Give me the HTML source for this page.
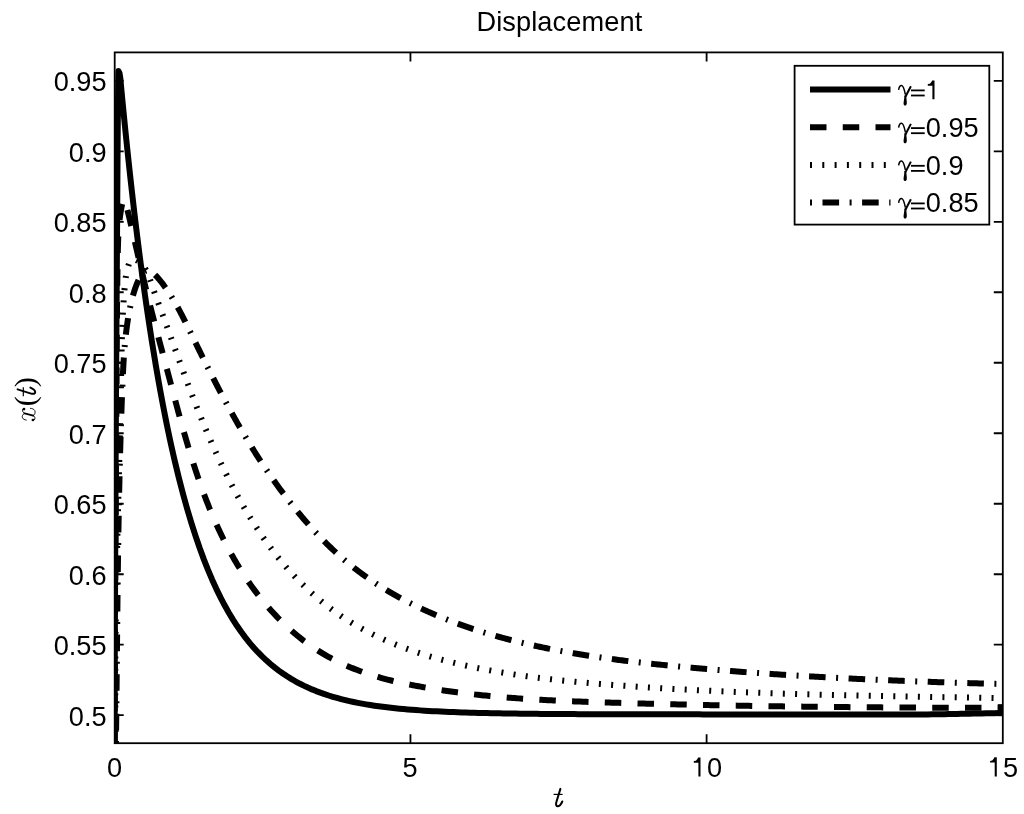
<!DOCTYPE html><html><head><meta charset="utf-8"><title>Displacement</title><style>html,body{margin:0;padding:0;background:#fff;overflow:hidden;}svg{display:block;}text{font-family:"Liberation Sans",sans-serif;fill:#000;}svg{will-change:transform;}</style></head><body>
<svg width="1024" height="814" viewBox="0 0 1024 814">
<rect width="1024" height="814" fill="#fff"/>
<defs><clipPath id="ax"><rect x="114.2" y="52.4" width="888.6" height="690.8"/></clipPath></defs>
<g clip-path="url(#ax)" fill="none" stroke="#000" stroke-width="6.0">
<path d="M114.60,745.00L114.80,650.00L115.20,560.00L115.60,470.00L116.10,380.00L116.70,290.00L117.20,210.00L117.60,150.00L117.90,110.00L118.20,84.00L118.50,71.00L119.50,73.00L120.50,79.50L120.82,83.71L122.17,97.95L123.52,111.87L124.87,125.47L126.22,138.77L127.57,151.77L128.93,164.48L130.28,176.89L131.63,189.03L132.98,200.90L134.33,212.49L135.68,223.83L137.04,234.90L138.39,245.73L139.74,256.32L141.09,266.66L142.44,276.77L143.79,286.66L145.15,296.32L146.50,305.76L147.85,314.99L149.20,324.01L150.55,332.82L151.90,341.44L153.26,349.86L154.61,358.10L155.96,366.14L157.31,374.01L158.66,381.70L160.01,389.21L161.37,396.56L162.72,403.73L164.07,410.75L165.42,417.61L166.77,424.31L168.12,430.86L169.48,437.27L170.83,443.53L172.18,449.65L173.53,455.63L174.71,460.75L178.88,477.98L183.04,494.04L187.20,509.00L191.36,522.95L195.52,535.95L199.68,548.07L203.84,559.36L208.00,569.89L212.16,579.70L216.32,588.84L220.49,597.37L224.65,605.31L228.81,612.71L232.97,619.61L237.13,626.04L241.29,632.04L245.45,637.62L249.61,642.83L253.77,647.68L257.93,652.20L262.10,656.41L266.26,660.33L270.42,663.99L274.58,667.40L278.74,670.58L282.90,673.53L287.06,676.29L291.22,678.86L295.38,681.27L299.54,683.52L303.71,685.61L307.87,687.57L312.03,689.39L316.19,691.09L320.35,692.67L324.51,694.14L328.67,695.52L332.83,696.80L336.99,697.99L341.15,699.11L345.31,700.15L349.48,701.11L353.64,702.02L357.80,702.86L361.96,703.64L366.12,704.37L370.28,705.05L374.44,705.69L378.60,706.28L382.76,706.83L386.92,707.34L391.09,707.82L395.25,708.27L399.41,708.69L403.57,709.08L407.73,709.44L411.89,709.77L416.05,710.09L420.21,710.38L424.37,710.66L428.53,710.91L432.70,711.15L436.86,711.37L441.02,711.58L445.18,711.77L449.34,711.95L453.50,712.11L457.66,712.27L461.82,712.41L465.98,712.55L470.14,712.68L474.31,712.79L478.47,712.90L482.63,713.01L486.79,713.10L490.95,713.19L495.11,713.27L499.27,713.35L503.43,713.42L507.59,713.49L511.75,713.55L515.92,713.61L520.08,713.66L524.24,713.71L528.40,713.76L532.56,713.81L536.72,713.85L540.88,713.88L545.04,713.92L549.20,713.95L553.36,713.98L557.52,714.01L561.69,714.04L565.85,714.07L570.01,714.09L574.17,714.11L578.33,714.13L582.49,714.15L586.65,714.17L590.81,714.18L594.97,714.20L599.13,714.21L603.30,714.23L607.46,714.24L611.62,714.25L615.78,714.26L619.94,714.27L624.10,714.28L628.26,714.29L632.42,714.30L636.58,714.31L640.74,714.31L644.91,714.32L649.07,714.33L653.23,714.33L657.39,714.34L661.55,714.34L665.71,714.35L669.87,714.35L674.03,714.35L678.19,714.36L682.35,714.36L686.52,714.37L690.68,714.37L694.84,714.37L699.00,714.37L703.16,714.38L707.32,714.38L711.48,714.38L715.64,714.38L719.80,714.38L723.96,714.39L728.13,714.39L732.29,714.39L736.45,714.39L740.61,714.39L744.77,714.39L748.93,714.39L753.09,714.40L757.25,714.40L761.41,714.40L765.57,714.40L769.74,714.40L773.90,714.40L778.06,714.40L782.22,714.40L786.38,714.40L790.54,714.40L794.70,714.40L798.86,714.40L803.02,714.40L807.18,714.40L811.34,714.40L815.51,714.40L819.67,714.41L823.83,714.41L827.99,714.41L832.15,714.41L836.31,714.41L840.47,714.41L844.63,714.41L848.79,714.41L852.95,714.41L857.12,714.41L861.28,714.41L865.44,714.41L869.60,714.41L873.76,714.41L877.92,714.41L882.08,714.41L886.24,714.41L890.40,714.41L894.56,714.41L898.73,714.41L902.89,714.41L907.05,714.41L911.21,714.41L915.37,714.41L919.53,714.41L923.69,714.41L927.85,714.41L932.01,714.37L936.17,714.29L940.34,714.21L944.50,714.13L948.66,714.05L952.82,713.97L956.98,713.89L961.14,713.81L965.30,713.73L969.46,713.65L973.62,713.57L977.78,713.49L981.95,713.41L986.11,713.33L990.27,713.25L994.43,713.17L998.59,713.09L1002.75,713.01" stroke-linejoin="round"/>
<path d="M114.83,745.00L114.82,743.06L114.82,741.13L114.81,739.19L114.81,737.25L114.81,735.31L114.81,733.37L114.80,731.43L114.80,729.49L114.80,727.55L114.80,725.61L114.80,723.67L114.80,721.73L114.80,719.79L114.79,717.86L114.79,715.92L114.79,713.98L114.79,712.04L114.80,710.10L114.80,708.16L114.80,706.22L114.80,704.28L114.80,702.34L114.80,700.40L114.80,698.47L114.81,696.53L114.81,694.59L114.81,692.65L114.81,690.71L114.82,688.77L114.82,686.83L114.82,684.90L114.83,682.96L114.83,681.02L114.84,679.08L114.84,677.14L114.85,675.20L114.85,673.26L114.86,671.33L114.86,669.39L114.87,667.45L114.87,665.51L114.88,663.57L114.88,661.63L114.89,659.70L114.90,657.76L114.90,655.82L114.91,653.88L114.92,651.94L114.93,650.00L114.93,648.07L114.94,646.13L114.95,644.19L114.96,642.25L114.96,640.31L114.97,638.37L114.98,636.44L114.99,634.50L115.00,632.56L115.01,630.62L115.02,628.68L115.02,626.75L115.03,624.81L115.04,622.87L115.05,620.93L115.06,618.99L115.07,617.05L115.08,615.12L115.09,613.18L115.10,611.24L115.11,609.30L115.12,607.36L115.13,605.43L115.15,603.49L115.16,601.55L115.17,599.61L115.18,597.67L115.19,595.74L115.20,593.80L115.21,591.86L115.22,589.92L115.24,587.98L115.25,586.05L115.26,584.11L115.27,582.17L115.28,580.23L115.30,578.29L115.31,576.36L115.32,574.42L115.33,572.48L115.34,570.54L115.36,568.60L115.37,566.67L115.38,564.73L115.40,562.79L115.41,560.85L115.42,558.91L115.43,556.98L115.45,555.04L115.46,553.10L115.47,551.16L115.49,549.22L115.50,547.29L115.51,545.35L115.53,543.41L115.54,541.47L115.55,539.53L115.57,537.60L115.58,535.66L115.59,533.72L115.61,531.78L115.62,529.84L115.63,527.91L115.65,525.97L115.66,524.03L115.67,522.09L115.69,520.15L115.70,518.22L115.72,516.28L115.73,514.34L115.74,512.40L115.76,510.46L115.77,508.53L115.78,506.59L115.80,504.65L115.81,502.71L115.83,500.77L115.84,498.83L115.85,496.90L115.87,494.96L115.88,493.02L115.89,491.08L115.91,489.14L115.92,487.20L115.93,485.27L115.95,483.33L115.96,481.39L115.98,479.45L115.99,477.51L116.00,475.57L116.02,473.64L116.03,471.70L116.04,469.76L116.06,467.82L116.07,465.88L116.08,463.94L116.09,462.01L116.11,460.07L116.12,458.13L116.13,456.19L116.15,454.25L116.16,452.31L116.17,450.37L116.18,448.44L116.20,446.50L116.21,444.56L116.22,442.62L116.23,440.68L116.25,438.74L116.26,436.80L116.27,434.86L116.28,432.93L116.29,430.99L116.31,429.05L116.32,427.11L116.33,425.17L116.34,423.23L116.35,421.29L116.36,419.35L116.37,417.41L116.39,415.47L116.40,413.54L116.41,411.60L116.42,409.66L116.43,407.72L116.44,405.78L116.45,403.84L116.46,401.90L116.47,399.96L116.48,398.02L116.49,396.08L116.50,394.14L116.51,392.20L116.52,390.26L116.53,388.32L116.54,386.39L116.55,384.45L116.56,382.51L116.56,380.57L116.57,378.63L116.58,376.69L116.59,374.75L116.60,372.81L116.61,370.87L116.62,368.93L116.63,366.99L116.64,365.05L116.65,363.11L116.66,361.17L116.67,359.23L116.68,357.29L116.69,355.35L116.70,353.41L116.71,351.48L116.72,349.54L116.73,347.60L116.74,345.66L116.76,343.72L116.77,341.78L116.78,339.84L116.79,337.90L116.80,335.96L116.82,334.02L116.83,332.09L116.84,330.15L116.86,328.21L116.87,326.27L116.89,324.33L116.90,322.39L116.92,320.45L116.93,318.52L116.95,316.58L116.97,314.64L116.98,312.70L117.00,310.76L117.02,308.83L117.04,306.89L117.06,304.95L117.08,303.01L117.10,301.08L117.12,299.14L117.14,297.20L117.16,295.26L117.18,293.33L117.20,291.39L117.23,289.45L117.25,287.52L117.28,285.58L117.30,283.64L117.33,281.71L117.35,279.77L117.38,277.83L117.41,275.90L117.44,273.96L117.47,272.03L117.50,270.09L117.53,268.16L117.56,266.22L117.59,264.29L117.63,262.35L117.66,260.42L117.70,258.48L117.73,256.55L117.77,254.61L117.81,252.68L117.85,250.75L117.89,248.81L117.94,246.88L117.99,244.95L118.05,243.01L118.11,241.08L118.19,239.14L118.27,237.21L118.36,235.27L118.47,233.34L118.58,231.40L118.71,229.46L118.86,227.53L119.02,225.59L119.19,223.65L119.39,221.71L119.60,219.77L119.83,217.83L120.08,215.89L120.36,213.95L120.65,212.00L120.97,210.06L121.32,208.11L121.69,206.17L122.14,204.23L122.70,202.32L123.44,200.46L124.24,199.36L124.89,200.15L125.42,202.01L125.92,203.94L126.42,205.85L126.90,207.75L127.36,209.64L127.82,211.52L128.28,213.40L128.73,215.28L129.17,217.16L129.62,219.04L130.06,220.92L130.50,222.81L130.94,224.69L131.38,226.58L131.82,228.47L132.26,230.36L132.70,232.25L133.13,234.14L133.57,236.03L134.00,237.92L134.44,239.82L134.87,241.71L135.30,243.61L135.74,245.50L136.17,247.40L136.61,249.29L137.04,251.19L137.48,253.09L137.91,254.98L138.35,256.88L138.79,258.78L139.22,260.67L139.66,262.57L140.10,264.46L140.54,266.36L140.98,268.25L141.43,270.15L141.87,272.04L142.32,273.93L142.77,275.82L143.22,277.71L143.67,279.60L144.13,281.49L144.58,283.37L145.04,285.26L145.50,287.14L145.96,289.02L146.43,290.91L146.89,292.79L147.36,294.66L147.83,296.54L148.30,298.42L148.78,300.30L149.25,302.17L149.73,304.05L150.20,305.92L150.68,307.79L151.16,309.67L151.64,311.54L152.13,313.41L152.61,315.28L153.10,317.15L153.58,319.02L154.07,320.89L154.56,322.76L155.05,324.63L155.54,326.49L156.03,328.36L156.52,330.23L157.02,332.10L157.51,333.96L158.01,335.83L158.50,337.70L159.00,339.56L159.50,341.43L159.99,343.29L160.49,345.16L160.99,347.03L161.49,348.89L161.99,350.76L162.49,352.63L162.99,354.50L163.49,356.36L163.99,358.23L164.49,360.10L164.99,361.97L165.49,363.84L165.99,365.71L166.49,367.58L166.99,369.45L167.49,371.32L167.99,373.19L168.48,375.06L168.98,376.93L169.48,378.81L169.98,380.68L170.48,382.56L170.98,384.43L171.48,386.31L171.97,388.18L172.47,390.06L172.97,391.94L173.47,393.82L173.97,395.69L174.47,397.57L174.98,399.45L175.48,401.33L175.98,403.21L176.49,405.08L177.00,406.96L177.50,408.84L178.01,410.72L178.52,412.59L179.03,414.47L179.55,416.35L180.06,418.22L180.58,420.10L181.10,421.97L181.62,423.85L182.15,425.72L182.67,427.60L183.20,429.47L183.73,431.34L184.27,433.21L184.80,435.08L185.34,436.95L185.88,438.82L186.43,440.69L186.98,442.55L187.53,444.42L188.08,446.28L188.64,448.14L189.20,450.00L189.77,451.86L190.34,453.72L190.91,455.58L191.49,457.43L192.07,459.29L192.65,461.14L193.24,462.99L193.83,464.84L194.43,466.69L195.03,468.53L195.64,470.37L196.25,472.22L196.87,474.06L197.49,475.89L198.12,477.73L198.75,479.56L199.38,481.39L200.03,483.22L200.67,485.05L201.33,486.87L201.98,488.69L202.65,490.51L203.32,492.33L203.99,494.14L204.68,495.95L205.36,497.76L206.06,499.57L206.76,501.37L207.47,503.17L208.18,504.97L208.90,506.76L209.63,508.55L210.36,510.34L211.10,512.13L211.85,513.91L212.60,515.69L213.36,517.46L214.13,519.23L214.91,521.00L215.69,522.77L216.48,524.53L217.28,526.29L218.09,528.04L218.91,529.79L219.73,531.54L220.56,533.29L221.40,535.03L222.25,536.76L223.10,538.49L223.97,540.22L224.84,541.95L225.72,543.67L226.61,545.38L227.51,547.09L228.42,548.80L229.34,550.51L230.27,552.20L231.20,553.90L232.15,555.59L233.11,557.28L234.07,558.96L235.04,560.63L236.03,562.31L237.02,563.97L238.03,565.63L239.04,567.29L240.06,568.94L241.10,570.59L242.14,572.23L243.20,573.87L244.26,575.49L245.33,577.12L246.41,578.73L247.51,580.34L248.61,581.95L249.72,583.54L250.85,585.13L251.98,586.71L253.12,588.29L254.28,589.85L255.44,591.41L256.61,592.97L257.80,594.51L258.99,596.04L260.19,597.57L261.41,599.09L262.63,600.60L263.86,602.10L265.11,603.59L266.36,605.07L267.63,606.55L268.90,608.01L270.19,609.46L271.48,610.91L272.79,612.34L274.10,613.77L275.43,615.18L276.76,616.58L278.11,617.97L279.47,619.36L280.83,620.73L282.21,622.09L283.60,623.43L285.00,624.77L286.41,626.09L287.82,627.40L289.25,628.70L290.69,629.99L292.14,631.27L293.60,632.53L295.08,633.78L296.56,635.02L298.05,636.24L299.55,637.45L301.06,638.65L302.59,639.84L304.12,641.01L305.67,642.16L307.22,643.30L308.79,644.43L310.37,645.54L311.95,646.64L313.55,647.73L315.16,648.80L316.78,649.85L318.41,650.89L320.05,651.91L321.70,652.92L323.36,653.91L325.03,654.89L326.72,655.85L328.41,656.79L330.11,657.72L331.83,658.63L333.55,659.53L335.28,660.41L337.03,661.27L338.78,662.12L340.54,662.96L342.30,663.78L344.08,664.59L345.86,665.38L347.65,666.15L349.45,666.92L351.25,667.66L353.06,668.40L354.88,669.12L356.70,669.82L358.53,670.51L360.37,671.19L362.21,671.86L364.05,672.51L365.90,673.14L367.76,673.77L369.61,674.38L371.47,674.98L373.34,675.56L375.21,676.14L377.08,676.70L378.95,677.24L380.83,677.78L382.71,678.30L384.59,678.81L386.47,679.31L388.35,679.80L390.24,680.28L392.13,680.74L394.01,681.20L395.90,681.64L397.79,682.08L399.68,682.50L401.58,682.92L403.47,683.33L405.36,683.73L407.26,684.12L409.16,684.50L411.05,684.88L412.95,685.25L414.85,685.61L416.75,685.97L418.65,686.32L420.56,686.67L422.46,687.01L424.36,687.34L426.27,687.67L428.17,688.00L430.08,688.32L431.99,688.64L433.89,688.95L435.80,689.25L437.71,689.55L439.62,689.85L441.53,690.14L443.44,690.42L445.36,690.71L447.27,690.98L449.18,691.25L451.10,691.52L453.01,691.79L454.93,692.04L456.84,692.30L458.76,692.55L460.68,692.79L462.60,693.03L464.51,693.27L466.43,693.50L468.35,693.73L470.27,693.96L472.19,694.18L474.12,694.39L476.04,694.61L477.96,694.81L479.88,695.02L481.81,695.22L483.73,695.42L485.66,695.61L487.58,695.80L489.51,695.99L491.44,696.17L493.36,696.35L495.29,696.52L497.22,696.70L499.15,696.87L501.08,697.03L503.00,697.19L504.93,697.35L506.86,697.51L508.79,697.66L510.73,697.81L512.66,697.96L514.59,698.10L516.52,698.25L518.45,698.38L520.39,698.52L522.32,698.65L524.25,698.78L526.19,698.91L528.12,699.03L530.06,699.16L531.99,699.28L533.93,699.39L535.86,699.51L537.80,699.62L539.73,699.73L541.67,699.84L543.61,699.95L545.54,700.05L547.48,700.15L549.42,700.25L551.35,700.35L553.29,700.44L555.23,700.54L557.17,700.63L559.11,700.72L561.05,700.81L562.98,700.89L564.92,700.98L566.86,701.06L568.80,701.14L570.74,701.22L572.68,701.30L574.62,701.38L576.56,701.45L578.50,701.53L580.44,701.60L582.38,701.67L584.32,701.74L586.26,701.81L588.20,701.88L590.14,701.95L592.08,702.01L594.02,702.08L595.96,702.14L597.90,702.21L599.84,702.27L601.78,702.33L603.72,702.39L605.66,702.45L607.60,702.51L609.54,702.57L611.48,702.63L613.42,702.69L615.36,702.75L617.30,702.81L619.24,702.86L621.18,702.92L623.12,702.98L625.06,703.03L627.00,703.09L628.94,703.15L630.88,703.20L632.82,703.26L634.76,703.31L636.70,703.36L638.64,703.42L640.58,703.47L642.51,703.52L644.45,703.57L646.39,703.63L648.33,703.68L650.27,703.73L652.21,703.78L654.15,703.83L656.09,703.88L658.03,703.93L659.96,703.98L661.90,704.03L663.84,704.08L665.78,704.12L667.72,704.17L669.66,704.22L671.60,704.27L673.53,704.31L675.47,704.36L677.41,704.40L679.35,704.45L681.29,704.49L683.23,704.54L685.16,704.58L687.10,704.63L689.04,704.67L690.98,704.71L692.92,704.76L694.85,704.80L696.79,704.84L698.73,704.88L700.67,704.92L702.61,704.97L704.54,705.01L706.48,705.05L708.42,705.09L710.36,705.13L712.29,705.17L714.23,705.20L716.17,705.24L718.11,705.28L720.05,705.32L721.98,705.36L723.92,705.39L725.86,705.43L727.80,705.47L729.73,705.50L731.67,705.54L733.61,705.58L735.55,705.61L737.48,705.64L739.42,705.68L741.36,705.71L743.29,705.75L745.23,705.78L747.17,705.81L749.11,705.85L751.04,705.88L752.98,705.91L754.92,705.94L756.86,705.98L758.79,706.01L760.73,706.04L762.67,706.07L764.60,706.10L766.54,706.13L768.48,706.16L770.42,706.19L772.35,706.22L774.29,706.24L776.23,706.27L778.17,706.30L780.10,706.33L782.04,706.36L783.98,706.38L785.91,706.41L787.85,706.44L789.79,706.46L791.73,706.49L793.66,706.51L795.60,706.54L797.54,706.56L799.47,706.59L801.41,706.61L803.35,706.64L805.29,706.66L807.22,706.69L809.16,706.71L811.10,706.73L813.03,706.75L814.97,706.78L816.91,706.80L818.85,706.82L820.78,706.84L822.72,706.86L824.66,706.88L826.60,706.90L828.53,706.93L830.47,706.95L832.41,706.97L834.34,706.98L836.28,707.00L838.22,707.02L840.16,707.04L842.09,707.06L844.03,707.08L845.97,707.10L847.91,707.11L849.84,707.13L851.78,707.15L853.72,707.17L855.66,707.18L857.59,707.20L859.53,707.21L861.47,707.23L863.41,707.25L865.35,707.26L867.28,707.28L869.22,707.29L871.16,707.31L873.10,707.32L875.03,707.33L876.97,707.35L878.91,707.36L880.85,707.37L882.79,707.39L884.72,707.40L886.66,707.41L888.60,707.43L890.54,707.44L892.48,707.45L894.42,707.46L896.35,707.47L898.29,707.48L900.23,707.49L902.17,707.51L904.11,707.52L906.05,707.53L907.98,707.54L909.92,707.55L911.86,707.55L913.80,707.56L915.74,707.57L917.68,707.58L919.62,707.59L921.55,707.60L923.49,707.61L925.43,707.62L927.37,707.62L929.31,707.63L931.25,707.64L933.19,707.64L935.13,707.65L937.07,707.66L939.01,707.66L940.95,707.67L942.89,707.68L944.82,707.68L946.76,707.69L948.70,707.69L950.64,707.70L952.58,707.70L954.52,707.71L956.46,707.71L958.40,707.72L960.34,707.72L962.28,707.73L964.22,707.73L966.16,707.73L968.10,707.74L970.04,707.74L971.98,707.74L973.92,707.75L975.86,707.75L977.80,707.75L979.75,707.75L981.69,707.76L983.63,707.76L985.57,707.76L987.51,707.76L989.45,707.76L991.39,707.76L993.33,707.76L995.27,707.77L997.21,707.77L999.16,707.77L1001.10,707.77L1003.04,707.77" stroke-dasharray="16.50 16.25" stroke-dashoffset="31.95"/>
<path d="M115.74,745.01L115.72,743.56L115.69,742.12L115.67,740.68L115.65,739.24L115.63,737.79L115.61,736.35L115.59,734.91L115.57,733.46L115.55,732.02L115.53,730.58L115.51,729.14L115.49,727.69L115.48,726.25L115.46,724.81L115.45,723.37L115.43,721.92L115.42,720.48L115.40,719.04L115.39,717.60L115.38,716.15L115.37,714.71L115.36,713.27L115.35,711.83L115.34,710.39L115.33,708.94L115.32,707.50L115.31,706.06L115.30,704.62L115.30,703.17L115.29,701.73L115.29,700.29L115.28,698.85L115.28,697.41L115.27,695.96L115.27,694.52L115.27,693.08L115.26,691.64L115.26,690.20L115.26,688.75L115.26,687.31L115.26,685.87L115.26,684.43L115.26,682.99L115.26,681.54L115.26,680.10L115.27,678.66L115.27,677.22L115.27,675.78L115.28,674.33L115.28,672.89L115.29,671.45L115.29,670.01L115.30,668.57L115.31,667.13L115.31,665.68L115.32,664.24L115.33,662.80L115.34,661.36L115.34,659.92L115.35,658.48L115.36,657.04L115.37,655.59L115.38,654.15L115.39,652.71L115.41,651.27L115.42,649.83L115.43,648.39L115.44,646.94L115.46,645.50L115.47,644.06L115.48,642.62L115.50,641.18L115.51,639.74L115.53,638.30L115.54,636.85L115.56,635.41L115.58,633.97L115.59,632.53L115.61,631.09L115.63,629.65L115.65,628.21L115.66,626.77L115.68,625.32L115.70,623.88L115.72,622.44L115.74,621.00L115.76,619.56L115.78,618.12L115.80,616.68L115.82,615.24L115.85,613.80L115.87,612.35L115.89,610.91L115.91,609.47L115.94,608.03L115.96,606.59L115.98,605.15L116.01,603.71L116.03,602.27L116.05,600.83L116.08,599.38L116.10,597.94L116.13,596.50L116.16,595.06L116.18,593.62L116.21,592.18L116.23,590.74L116.26,589.30L116.29,587.86L116.31,586.41L116.34,584.97L116.37,583.53L116.40,582.09L116.43,580.65L116.45,579.21L116.48,577.77L116.51,576.33L116.54,574.89L116.57,573.45L116.60,572.00L116.63,570.56L116.66,569.12L116.69,567.68L116.72,566.24L116.75,564.80L116.78,563.36L116.82,561.92L116.85,560.48L116.88,559.04L116.91,557.60L116.94,556.15L116.97,554.71L117.01,553.27L117.04,551.83L117.07,550.39L117.10,548.95L117.14,547.51L117.17,546.07L117.20,544.63L117.24,543.19L117.27,541.74L117.30,540.30L117.34,538.86L117.37,537.42L117.41,535.98L117.44,534.54L117.48,533.10L117.51,531.66L117.54,530.22L117.58,528.78L117.61,527.34L117.65,525.89L117.68,524.45L117.72,523.01L117.76,521.57L117.79,520.13L117.83,518.69L117.86,517.25L117.90,515.81L117.93,514.37L117.97,512.93L118.00,511.48L118.04,510.04L118.08,508.60L118.11,507.16L118.15,505.72L118.18,504.28L118.22,502.84L118.26,501.40L118.29,499.96L118.33,498.51L118.37,497.07L118.40,495.63L118.44,494.19L118.47,492.75L118.51,491.31L118.55,489.87L118.58,488.43L118.62,486.99L118.66,485.54L118.69,484.10L118.73,482.66L118.77,481.22L118.80,479.78L118.84,478.34L118.87,476.90L118.91,475.46L118.95,474.02L118.98,472.57L119.02,471.13L119.06,469.69L119.09,468.25L119.13,466.81L119.16,465.37L119.20,463.93L119.24,462.49L119.27,461.04L119.31,459.60L119.34,458.16L119.38,456.72L119.41,455.28L119.45,453.84L119.48,452.40L119.52,450.95L119.55,449.51L119.59,448.07L119.62,446.63L119.66,445.19L119.69,443.75L119.73,442.30L119.76,440.86L119.80,439.42L119.83,437.98L119.87,436.54L119.90,435.10L119.93,433.66L119.97,432.21L120.00,430.77L120.03,429.33L120.07,427.89L120.10,426.45L120.13,425.01L120.17,423.56L120.20,422.12L120.23,420.68L120.26,419.24L120.29,417.80L120.33,416.35L120.36,414.91L120.39,413.47L120.42,412.03L120.45,410.59L120.48,409.14L120.51,407.70L120.54,406.26L120.57,404.82L120.60,403.38L120.63,401.93L120.66,400.49L120.69,399.05L120.72,397.61L120.75,396.17L120.78,394.72L120.81,393.28L120.84,391.84L120.86,390.40L120.89,388.95L120.92,387.51L120.95,386.07L120.97,384.63L121.00,383.19L121.02,381.74L121.05,380.30L121.08,378.86L121.10,377.42L121.13,375.97L121.15,374.53L121.18,373.09L121.20,371.65L121.23,370.20L121.25,368.76L121.28,367.32L121.30,365.88L121.33,364.43L121.35,362.99L121.38,361.55L121.41,360.11L121.44,358.66L121.46,357.22L121.49,355.78L121.52,354.34L121.55,352.90L121.58,351.45L121.62,350.01L121.65,348.57L121.68,347.13L121.72,345.69L121.75,344.25L121.79,342.81L121.83,341.37L121.87,339.92L121.91,338.48L121.95,337.04L121.99,335.60L122.04,334.16L122.08,332.72L122.13,331.28L122.18,329.84L122.23,328.40L122.29,326.96L122.34,325.52L122.40,324.09L122.46,322.65L122.52,321.21L122.58,319.77L122.65,318.33L122.71,316.89L122.78,315.46L122.86,314.02L122.93,312.58L123.01,311.15L123.09,309.71L123.17,308.27L123.25,306.84L123.34,305.40L123.43,303.97L123.52,302.53L123.62,301.10L123.71,299.66L123.82,298.23L123.92,296.79L124.03,295.36L124.14,293.93L124.25,292.49L124.37,291.06L124.49,289.63L124.61,288.20L124.74,286.77L124.87,285.34L125.00,283.90L125.14,282.47L125.30,281.04L125.46,279.61L125.65,278.18L125.85,276.74L126.08,275.31L126.33,273.87L126.61,272.43L126.92,270.99L127.26,269.55L127.64,268.10L128.06,266.66L128.52,265.20L129.03,263.75L129.60,262.36L130.25,261.10L131.01,260.08L131.88,259.37L132.90,259.07L134.04,259.15L135.26,259.53L136.50,260.12L137.72,260.86L138.92,261.72L140.09,262.69L141.22,263.75L142.30,264.89L143.32,266.09L144.27,267.34L145.15,268.63L145.96,269.93L146.68,271.24L147.33,272.56L147.91,273.88L148.45,275.21L148.95,276.54L149.43,277.88L149.88,279.22L150.33,280.56L150.78,281.90L151.24,283.25L151.70,284.59L152.17,285.94L152.64,287.29L153.11,288.64L153.59,289.99L154.07,291.34L154.55,292.69L155.03,294.04L155.52,295.40L156.01,296.75L156.50,298.10L156.99,299.46L157.48,300.82L157.98,302.17L158.48,303.53L158.97,304.88L159.47,306.24L159.97,307.60L160.47,308.96L160.97,310.31L161.47,311.67L161.97,313.03L162.47,314.39L162.97,315.74L163.47,317.10L163.96,318.46L164.46,319.81L164.95,321.17L165.45,322.53L165.94,323.88L166.44,325.24L166.93,326.59L167.42,327.95L167.92,329.31L168.41,330.66L168.90,332.02L169.39,333.37L169.88,334.72L170.37,336.08L170.86,337.43L171.35,338.79L171.84,340.14L172.33,341.49L172.82,342.85L173.31,344.20L173.80,345.55L174.29,346.91L174.78,348.26L175.27,349.61L175.76,350.96L176.25,352.32L176.74,353.67L177.23,355.02L177.72,356.37L178.21,357.72L178.71,359.07L179.20,360.42L179.69,361.78L180.18,363.13L180.68,364.48L181.17,365.83L181.67,367.18L182.16,368.53L182.66,369.88L183.15,371.23L183.65,372.58L184.15,373.93L184.65,375.28L185.15,376.62L185.65,377.97L186.15,379.32L186.66,380.67L187.16,382.02L187.66,383.37L188.17,384.72L188.68,386.07L189.19,387.41L189.70,388.76L190.21,390.11L190.72,391.46L191.23,392.80L191.75,394.15L192.26,395.50L192.78,396.84L193.30,398.19L193.82,399.53L194.34,400.88L194.86,402.22L195.39,403.57L195.91,404.91L196.44,406.26L196.97,407.60L197.50,408.94L198.03,410.28L198.56,411.63L199.10,412.97L199.63,414.31L200.17,415.65L200.71,416.99L201.25,418.32L201.80,419.66L202.34,421.00L202.89,422.34L203.44,423.67L203.99,425.01L204.54,426.34L205.10,427.67L205.66,429.01L206.21,430.34L206.78,431.67L207.34,433.00L207.90,434.33L208.47,435.66L209.04,436.98L209.61,438.31L210.18,439.63L210.76,440.96L211.34,442.28L211.92,443.60L212.50,444.92L213.08,446.24L213.67,447.56L214.26,448.88L214.85,450.20L215.45,451.51L216.04,452.83L216.64,454.14L217.24,455.45L217.85,456.76L218.45,458.07L219.06,459.38L219.67,460.69L220.29,461.99L220.90,463.29L221.52,464.60L222.14,465.90L222.77,467.20L223.40,468.50L224.03,469.79L224.66,471.09L225.30,472.38L225.93,473.67L226.58,474.96L227.22,476.25L227.87,477.54L228.52,478.83L229.17,480.11L229.83,481.39L230.49,482.67L231.15,483.95L231.81,485.23L232.48,486.51L233.15,487.78L233.83,489.05L234.51,490.32L235.19,491.59L235.87,492.86L236.56,494.12L237.25,495.38L237.94,496.64L238.64,497.90L239.34,499.16L240.04,500.41L240.75,501.67L241.46,502.92L242.18,504.17L242.89,505.41L243.62,506.66L244.34,507.90L245.07,509.14L245.80,510.38L246.54,511.62L247.28,512.85L248.02,514.08L248.77,515.31L249.52,516.54L250.27,517.76L251.03,518.99L251.79,520.21L252.56,521.42L253.32,522.64L254.10,523.85L254.87,525.06L255.66,526.27L256.44,527.48L257.23,528.68L258.02,529.88L258.82,531.08L259.62,532.27L260.43,533.46L261.24,534.65L262.05,535.84L262.87,537.02L263.69,538.20L264.52,539.38L265.35,540.55L266.19,541.72L267.03,542.89L267.87,544.06L268.72,545.22L269.58,546.38L270.43,547.53L271.30,548.68L272.16,549.83L273.04,550.97L273.91,552.11L274.80,553.25L275.68,554.39L276.57,555.52L277.47,556.64L278.37,557.77L279.28,558.89L280.19,560.00L281.10,561.11L282.02,562.22L282.95,563.32L283.88,564.42L284.82,565.52L285.76,566.61L286.71,567.70L287.66,568.78L288.62,569.86L289.58,570.94L290.55,572.01L291.52,573.08L292.50,574.14L293.48,575.20L294.47,576.25L295.47,577.30L296.47,578.34L297.47,579.38L298.48,580.42L299.50,581.45L300.52,582.47L301.55,583.50L302.58,584.51L303.62,585.52L304.66,586.53L305.71,587.53L306.76,588.53L307.82,589.52L308.89,590.50L309.95,591.48L311.03,592.46L312.11,593.43L313.19,594.39L314.28,595.35L315.37,596.30L316.47,597.25L317.57,598.19L318.68,599.12L319.79,600.05L320.91,600.97L322.03,601.89L323.15,602.80L324.28,603.71L325.42,604.60L326.56,605.50L327.70,606.38L328.85,607.26L330.00,608.13L331.16,609.00L332.32,609.86L333.49,610.71L334.66,611.56L335.83,612.40L337.01,613.23L338.19,614.06L339.38,614.88L340.57,615.69L341.76,616.49L342.96,617.29L344.16,618.08L345.37,618.86L346.58,619.64L347.79,620.41L349.01,621.17L350.23,621.93L351.46,622.67L352.69,623.42L353.92,624.15L355.16,624.88L356.40,625.60L357.64,626.31L358.89,627.02L360.14,627.72L361.39,628.42L362.65,629.11L363.91,629.79L365.18,630.47L366.45,631.13L367.72,631.80L368.99,632.45L370.27,633.10L371.55,633.75L372.83,634.39L374.12,635.02L375.41,635.64L376.70,636.26L378.00,636.88L379.30,637.49L380.60,638.09L381.90,638.68L383.21,639.27L384.52,639.86L385.83,640.44L387.15,641.01L388.47,641.58L389.79,642.14L391.11,642.69L392.44,643.24L393.77,643.79L395.10,644.33L396.43,644.86L397.77,645.39L399.11,645.91L400.45,646.43L401.79,646.94L403.14,647.45L404.49,647.95L405.84,648.45L407.19,648.94L408.55,649.43L409.90,649.91L411.26,650.39L412.62,650.86L413.99,651.32L415.35,651.79L416.72,652.24L418.09,652.70L419.46,653.14L420.83,653.59L422.21,654.02L423.58,654.46L424.96,654.89L426.34,655.31L427.72,655.73L429.10,656.15L430.49,656.56L431.87,656.96L433.26,657.37L434.65,657.76L436.04,658.16L437.43,658.55L438.83,658.93L440.22,659.31L441.62,659.69L443.02,660.06L444.41,660.43L445.81,660.80L447.21,661.16L448.62,661.51L450.02,661.87L451.42,662.22L452.83,662.56L454.24,662.90L455.64,663.24L457.05,663.58L458.46,663.91L459.87,664.24L461.28,664.56L462.69,664.88L464.10,665.20L465.52,665.51L466.93,665.82L468.34,666.13L469.76,666.43L471.17,666.73L472.59,667.03L474.01,667.32L475.42,667.61L476.84,667.90L478.26,668.19L479.68,668.47L481.09,668.75L482.51,669.02L483.93,669.29L485.35,669.56L486.77,669.83L488.19,670.10L489.61,670.36L491.03,670.61L492.45,670.87L493.87,671.12L495.29,671.37L496.71,671.62L498.14,671.87L499.56,672.11L500.98,672.35L502.40,672.58L503.83,672.82L505.25,673.05L506.67,673.28L508.10,673.51L509.52,673.73L510.95,673.95L512.37,674.17L513.80,674.39L515.22,674.60L516.65,674.82L518.07,675.03L519.50,675.23L520.92,675.44L522.35,675.64L523.78,675.84L525.20,676.04L526.63,676.24L528.06,676.43L529.49,676.62L530.92,676.81L532.34,677.00L533.77,677.19L535.20,677.37L536.63,677.55L538.06,677.73L539.49,677.91L540.92,678.08L542.35,678.26L543.78,678.43L545.21,678.60L546.64,678.77L548.07,678.93L549.50,679.10L550.93,679.26L552.36,679.42L553.79,679.58L555.22,679.74L556.65,679.89L558.09,680.05L559.52,680.20L560.95,680.35L562.38,680.50L563.82,680.65L565.25,680.79L566.68,680.94L568.11,681.08L569.55,681.22L570.98,681.36L572.41,681.50L573.85,681.64L575.28,681.78L576.71,681.91L578.15,682.04L579.58,682.18L581.02,682.31L582.45,682.44L583.89,682.56L585.32,682.69L586.76,682.82L588.19,682.94L589.63,683.07L591.06,683.19L592.50,683.31L593.93,683.43L595.37,683.55L596.80,683.67L598.24,683.79L599.67,683.90L601.11,684.02L602.55,684.13L603.98,684.25L605.42,684.36L606.85,684.47L608.29,684.58L609.73,684.69L611.16,684.80L612.60,684.91L614.04,685.02L615.47,685.13L616.91,685.24L618.35,685.34L619.78,685.45L621.22,685.55L622.66,685.66L624.09,685.76L625.53,685.86L626.97,685.96L628.41,686.07L629.84,686.17L631.28,686.27L632.72,686.37L634.15,686.46L635.59,686.56L637.03,686.66L638.47,686.76L639.91,686.85L641.34,686.95L642.78,687.04L644.22,687.14L645.66,687.23L647.09,687.32L648.53,687.41L649.97,687.51L651.41,687.60L652.85,687.69L654.29,687.78L655.72,687.87L657.16,687.95L658.60,688.04L660.04,688.13L661.48,688.22L662.92,688.30L664.36,688.39L665.79,688.47L667.23,688.56L668.67,688.64L670.11,688.72L671.55,688.80L672.99,688.89L674.43,688.97L675.87,689.05L677.31,689.13L678.75,689.21L680.18,689.29L681.62,689.36L683.06,689.44L684.50,689.52L685.94,689.59L687.38,689.67L688.82,689.75L690.26,689.82L691.70,689.89L693.14,689.97L694.58,690.04L696.02,690.11L697.46,690.19L698.90,690.26L700.34,690.33L701.78,690.40L703.22,690.47L704.66,690.54L706.10,690.61L707.54,690.68L708.98,690.74L710.42,690.81L711.86,690.88L713.30,690.94L714.74,691.01L716.18,691.08L717.62,691.14L719.06,691.20L720.50,691.27L721.94,691.33L723.38,691.40L724.82,691.46L726.26,691.52L727.70,691.58L729.14,691.64L730.59,691.70L732.03,691.76L733.47,691.82L734.91,691.88L736.35,691.94L737.79,692.00L739.23,692.06L740.67,692.11L742.11,692.17L743.55,692.23L744.99,692.28L746.43,692.34L747.88,692.39L749.32,692.45L750.76,692.50L752.20,692.56L753.64,692.61L755.08,692.66L756.52,692.71L757.96,692.77L759.40,692.82L760.85,692.87L762.29,692.92L763.73,692.97L765.17,693.02L766.61,693.07L768.05,693.12L769.49,693.17L770.94,693.22L772.38,693.27L773.82,693.31L775.26,693.36L776.70,693.41L778.14,693.45L779.58,693.50L781.03,693.55L782.47,693.59L783.91,693.64L785.35,693.68L786.79,693.73L788.23,693.77L789.68,693.82L791.12,693.86L792.56,693.90L794.00,693.94L795.44,693.99L796.88,694.03L798.33,694.07L799.77,694.11L801.21,694.15L802.65,694.19L804.09,694.24L805.53,694.28L806.98,694.32L808.42,694.35L809.86,694.39L811.30,694.43L812.74,694.47L814.18,694.51L815.63,694.55L817.07,694.59L818.51,694.62L819.95,694.66L821.39,694.70L822.84,694.73L824.28,694.77L825.72,694.81L827.16,694.84L828.60,694.88L830.04,694.91L831.49,694.95L832.93,694.98L834.37,695.02L835.81,695.05L837.25,695.09L838.70,695.12L840.14,695.15L841.58,695.19L843.02,695.22L844.46,695.25L845.91,695.29L847.35,695.32L848.79,695.35L850.23,695.38L851.67,695.41L853.11,695.45L854.56,695.48L856.00,695.51L857.44,695.54L858.88,695.57L860.32,695.60L861.77,695.63L863.21,695.66L864.65,695.69L866.09,695.72L867.53,695.75L868.97,695.78L870.42,695.81L871.86,695.84L873.30,695.87L874.74,695.89L876.18,695.92L877.62,695.95L879.07,695.98L880.51,696.01L881.95,696.03L883.39,696.06L884.83,696.09L886.27,696.12L887.72,696.14L889.16,696.17L890.60,696.20L892.04,696.23L893.48,696.25L894.92,696.28L896.36,696.31L897.81,696.33L899.25,696.36L900.69,696.38L902.13,696.41L903.57,696.44L905.01,696.46L906.45,696.49L907.90,696.51L909.34,696.54L910.78,696.56L912.22,696.59L913.66,696.61L915.10,696.64L916.54,696.66L917.98,696.69L919.43,696.71L920.87,696.74L922.31,696.76L923.75,696.79L925.19,696.81L926.63,696.84L928.07,696.86L929.51,696.89L930.95,696.91L932.39,696.94L933.83,696.96L935.28,696.98L936.72,697.01L938.16,697.03L939.60,697.06L941.04,697.08L942.48,697.10L943.92,697.13L945.36,697.15L946.80,697.18L948.24,697.20L949.68,697.22L951.12,697.25L952.56,697.27L954.00,697.30L955.44,697.32L956.88,697.34L958.32,697.37L959.76,697.39L961.20,697.42L962.64,697.44L964.08,697.46L965.52,697.49L966.96,697.51L968.40,697.54L969.84,697.56L971.28,697.58L972.72,697.61L974.16,697.63L975.60,697.66L977.04,697.68L978.48,697.71L979.92,697.73L981.36,697.75L982.80,697.78L984.24,697.80L985.68,697.83L987.12,697.85L988.56,697.88L990.00,697.90L991.44,697.93L992.88,697.95L994.32,697.98L995.76,698.00L997.20,698.03L998.63,698.05L1000.07,698.08L1001.51,698.10L1002.95,698.13" stroke-dasharray="2 10.28" stroke-dashoffset="11.62"/>
<path d="M115.93,744.99L115.95,743.48L115.97,741.96L115.99,740.44L116.01,738.93L116.03,737.41L116.04,735.90L116.06,734.38L116.08,732.86L116.10,731.35L116.12,729.83L116.14,728.31L116.15,726.80L116.17,725.28L116.19,723.77L116.21,722.25L116.23,720.73L116.24,719.22L116.26,717.70L116.28,716.18L116.29,714.67L116.31,713.15L116.33,711.64L116.34,710.12L116.36,708.60L116.38,707.09L116.39,705.57L116.41,704.05L116.43,702.54L116.44,701.02L116.46,699.50L116.48,697.99L116.49,696.47L116.51,694.95L116.52,693.44L116.54,691.92L116.55,690.40L116.57,688.89L116.59,687.37L116.60,685.85L116.62,684.34L116.63,682.82L116.65,681.30L116.66,679.79L116.68,678.27L116.69,676.75L116.71,675.24L116.72,673.72L116.74,672.20L116.75,670.69L116.77,669.17L116.78,667.65L116.80,666.14L116.81,664.62L116.83,663.10L116.84,661.59L116.86,660.07L116.88,658.55L116.89,657.04L116.91,655.52L116.92,654.00L116.94,652.48L116.95,650.97L116.97,649.45L116.98,647.93L117.00,646.42L117.01,644.90L117.03,643.38L117.04,641.87L117.06,640.35L117.07,638.83L117.09,637.31L117.10,635.80L117.12,634.28L117.13,632.76L117.15,631.25L117.17,629.73L117.18,628.21L117.20,626.70L117.21,625.18L117.23,623.66L117.24,622.14L117.26,620.63L117.28,619.11L117.29,617.59L117.31,616.08L117.32,614.56L117.34,613.04L117.36,611.53L117.37,610.01L117.39,608.49L117.41,606.97L117.42,605.46L117.44,603.94L117.46,602.42L117.48,600.91L117.49,599.39L117.51,597.87L117.53,596.35L117.55,594.84L117.56,593.32L117.58,591.80L117.60,590.29L117.62,588.77L117.64,587.25L117.65,585.74L117.67,584.22L117.69,582.70L117.71,581.18L117.73,579.67L117.75,578.15L117.77,576.63L117.79,575.12L117.81,573.60L117.83,572.08L117.85,570.56L117.87,569.05L117.89,567.53L117.91,566.01L117.93,564.50L117.95,562.98L117.97,561.46L117.99,559.95L118.01,558.43L118.03,556.91L118.06,555.39L118.08,553.88L118.10,552.36L118.12,550.84L118.14,549.33L118.17,547.81L118.19,546.29L118.21,544.78L118.24,543.26L118.26,541.74L118.28,540.23L118.31,538.71L118.33,537.19L118.36,535.67L118.38,534.16L118.41,532.64L118.43,531.12L118.46,529.61L118.48,528.09L118.51,526.57L118.54,525.06L118.56,523.54L118.59,522.02L118.62,520.51L118.64,518.99L118.67,517.47L118.70,515.96L118.73,514.44L118.76,512.92L118.78,511.41L118.81,509.89L118.84,508.37L118.87,506.86L118.90,505.34L118.93,503.82L118.96,502.31L118.99,500.79L119.02,499.27L119.05,497.76L119.09,496.24L119.12,494.72L119.15,493.21L119.18,491.69L119.22,490.17L119.25,488.66L119.28,487.14L119.32,485.62L119.35,484.11L119.39,482.59L119.42,481.08L119.46,479.56L119.49,478.04L119.53,476.53L119.56,475.01L119.60,473.49L119.64,471.98L119.67,470.46L119.71,468.94L119.75,467.43L119.79,465.91L119.83,464.40L119.87,462.88L119.91,461.36L119.94,459.85L119.99,458.33L120.03,456.82L120.07,455.30L120.11,453.78L120.15,452.27L120.19,450.75L120.23,449.24L120.28,447.72L120.32,446.20L120.36,444.69L120.41,443.17L120.45,441.66L120.50,440.14L120.54,438.63L120.59,437.11L120.64,435.59L120.68,434.08L120.73,432.56L120.78,431.05L120.83,429.53L120.87,428.02L120.92,426.50L120.97,424.98L121.02,423.47L121.07,421.95L121.12,420.44L121.17,418.92L121.23,417.41L121.28,415.89L121.33,414.38L121.38,412.86L121.44,411.35L121.49,409.83L121.54,408.32L121.60,406.80L121.66,405.28L121.71,403.77L121.77,402.25L121.82,400.74L121.88,399.22L121.94,397.71L122.00,396.19L122.06,394.68L122.12,393.16L122.18,391.65L122.24,390.14L122.30,388.62L122.36,387.11L122.42,385.59L122.48,384.08L122.55,382.56L122.61,381.05L122.68,379.53L122.74,378.02L122.81,376.50L122.88,374.99L122.95,373.47L123.02,371.96L123.10,370.45L123.18,368.93L123.26,367.42L123.34,365.90L123.42,364.39L123.51,362.88L123.60,361.36L123.70,359.85L123.79,358.34L123.89,356.82L124.00,355.31L124.11,353.80L124.22,352.28L124.33,350.77L124.45,349.26L124.58,347.75L124.71,346.23L124.84,344.72L124.98,343.21L125.12,341.70L125.27,340.19L125.42,338.67L125.58,337.16L125.74,335.65L125.91,334.14L126.09,332.63L126.27,331.12L126.46,329.61L126.65,328.10L126.85,326.59L127.06,325.08L127.27,323.57L127.49,322.06L127.72,320.56L127.96,319.05L128.20,317.55L128.45,316.04L128.72,314.54L128.99,313.05L129.27,311.55L129.55,310.06L129.85,308.57L130.16,307.09L130.48,305.61L130.81,304.14L131.15,302.66L131.51,301.20L131.87,299.74L132.24,298.28L132.63,296.83L133.03,295.39L133.45,293.95L133.87,292.52L134.31,291.10L134.76,289.68L135.23,288.27L135.72,286.87L136.23,285.46L136.77,284.06L137.36,282.64L138.00,281.22L138.69,279.77L139.45,278.31L140.27,276.82L141.18,275.34L142.15,273.91L143.19,272.62L144.28,271.54L145.43,270.72L146.63,270.25L147.87,270.19L149.14,270.51L150.41,271.14L151.68,271.99L152.91,272.97L154.10,274.01L155.24,275.09L156.33,276.19L157.38,277.32L158.40,278.47L159.39,279.64L160.36,280.82L161.30,282.02L162.24,283.22L163.16,284.43L164.07,285.66L164.96,286.89L165.84,288.12L166.71,289.37L167.57,290.62L168.41,291.88L169.25,293.14L170.07,294.42L170.88,295.70L171.69,296.98L172.48,298.27L173.26,299.57L174.04,300.87L174.80,302.18L175.56,303.49L176.31,304.81L177.05,306.13L177.78,307.46L178.51,308.79L179.23,310.12L179.94,311.46L180.65,312.80L181.35,314.14L182.05,315.49L182.74,316.84L183.43,318.19L184.12,319.54L184.80,320.90L185.47,322.26L186.15,323.62L186.82,324.97L187.49,326.34L188.16,327.70L188.83,329.06L189.49,330.42L190.16,331.78L190.82,333.14L191.49,334.50L192.15,335.86L192.82,337.22L193.48,338.58L194.15,339.94L194.81,341.30L195.48,342.66L196.14,344.02L196.81,345.37L197.48,346.73L198.14,348.09L198.81,349.45L199.48,350.80L200.15,352.16L200.82,353.51L201.49,354.87L202.16,356.22L202.83,357.58L203.51,358.93L204.18,360.29L204.86,361.64L205.54,363.00L206.21,364.35L206.89,365.71L207.57,367.06L208.25,368.42L208.94,369.77L209.62,371.12L210.31,372.48L211.00,373.83L211.68,375.18L212.37,376.54L213.07,377.89L213.76,379.24L214.46,380.59L215.15,381.94L215.85,383.30L216.55,384.65L217.25,386.00L217.95,387.35L218.66,388.69L219.36,390.04L220.07,391.39L220.78,392.74L221.49,394.08L222.21,395.43L222.92,396.77L223.64,398.12L224.36,399.46L225.08,400.80L225.80,402.14L226.52,403.48L227.25,404.82L227.98,406.16L228.71,407.49L229.44,408.83L230.17,410.16L230.91,411.49L231.64,412.83L232.38,414.16L233.12,415.48L233.87,416.81L234.61,418.14L235.36,419.46L236.11,420.79L236.86,422.11L237.61,423.43L238.37,424.75L239.13,426.06L239.89,427.38L240.65,428.69L241.41,430.00L242.18,431.31L242.95,432.62L243.72,433.92L244.49,435.23L245.27,436.53L246.04,437.83L246.82,439.13L247.61,440.42L248.39,441.72L249.18,443.01L249.97,444.30L250.76,445.59L251.56,446.87L252.35,448.16L253.15,449.44L253.95,450.72L254.76,452.00L255.57,453.27L256.38,454.55L257.19,455.82L258.00,457.09L258.82,458.36L259.64,459.62L260.47,460.89L261.29,462.15L262.12,463.41L262.96,464.67L263.79,465.92L264.63,467.18L265.47,468.43L266.32,469.68L267.16,470.93L268.01,472.17L268.87,473.42L269.72,474.66L270.58,475.90L271.45,477.14L272.31,478.37L273.18,479.61L274.06,480.84L274.93,482.07L275.81,483.30L276.69,484.52L277.58,485.75L278.47,486.97L279.36,488.19L280.26,489.41L281.16,490.62L282.06,491.84L282.97,493.05L283.88,494.26L284.80,495.47L285.71,496.67L286.64,497.88L287.56,499.08L288.49,500.28L289.42,501.48L290.36,502.68L291.30,503.87L292.25,505.06L293.19,506.25L294.15,507.44L295.10,508.63L296.06,509.81L297.03,510.99L297.99,512.17L298.97,513.35L299.94,514.52L300.92,515.69L301.90,516.86L302.89,518.02L303.88,519.18L304.88,520.34L305.88,521.49L306.88,522.65L307.89,523.79L308.90,524.94L309.92,526.08L310.94,527.22L311.96,528.35L312.99,529.48L314.03,530.61L315.06,531.73L316.10,532.85L317.15,533.96L318.20,535.07L319.25,536.18L320.31,537.28L321.37,538.37L322.44,539.47L323.51,540.55L324.58,541.64L325.66,542.71L326.75,543.79L327.83,544.85L328.93,545.92L330.02,546.98L331.12,548.03L332.23,549.08L333.34,550.12L334.45,551.15L335.57,552.18L336.69,553.21L337.82,554.23L338.95,555.24L340.09,556.25L341.23,557.25L342.38,558.25L343.53,559.24L344.68,560.22L345.84,561.20L347.00,562.17L348.17,563.13L349.34,564.09L350.52,565.05L351.70,565.99L352.89,566.93L354.08,567.86L355.27,568.79L356.47,569.71L357.68,570.63L358.88,571.54L360.09,572.44L361.31,573.34L362.53,574.23L363.75,575.11L364.98,575.99L366.21,576.87L367.45,577.73L368.69,578.59L369.93,579.45L371.18,580.30L372.43,581.14L373.68,581.98L374.94,582.81L376.21,583.64L377.47,584.46L378.74,585.27L380.02,586.08L381.29,586.89L382.57,587.69L383.86,588.48L385.15,589.26L386.44,590.05L387.73,590.82L389.03,591.59L390.33,592.36L391.64,593.12L392.95,593.87L394.26,594.62L395.57,595.36L396.89,596.10L398.21,596.83L399.54,597.56L400.86,598.28L402.19,598.99L403.53,599.71L404.87,600.41L406.20,601.11L407.55,601.81L408.89,602.50L410.24,603.18L411.59,603.86L412.95,604.54L414.30,605.21L415.66,605.87L417.03,606.53L418.39,607.19L419.76,607.84L421.13,608.48L422.50,609.12L423.88,609.75L425.26,610.38L426.64,611.01L428.02,611.63L429.41,612.25L430.79,612.86L432.18,613.46L433.58,614.06L434.97,614.66L436.37,615.25L437.77,615.84L439.17,616.42L440.57,617.00L441.98,617.57L443.39,618.14L444.80,618.71L446.21,619.26L447.62,619.82L449.04,620.37L450.46,620.92L451.88,621.46L453.30,622.00L454.72,622.53L456.15,623.06L457.58,623.58L459.01,624.10L460.44,624.62L461.87,625.13L463.30,625.63L464.74,626.14L466.18,626.64L467.62,627.13L469.06,627.62L470.50,628.11L471.94,628.59L473.39,629.07L474.83,629.54L476.28,630.01L477.73,630.48L479.18,630.94L480.63,631.40L482.08,631.85L483.53,632.30L484.99,632.75L486.45,633.19L487.90,633.63L489.36,634.06L490.82,634.49L492.28,634.92L493.74,635.34L495.20,635.76L496.66,636.18L498.13,636.59L499.59,637.00L501.06,637.40L502.52,637.80L503.99,638.20L505.46,638.59L506.93,638.98L508.40,639.37L509.86,639.76L511.33,640.14L512.81,640.51L514.28,640.88L515.75,641.25L517.22,641.62L518.70,641.98L520.17,642.34L521.64,642.70L523.12,643.05L524.60,643.40L526.07,643.75L527.55,644.09L529.03,644.43L530.50,644.77L531.98,645.10L533.46,645.43L534.94,645.76L536.42,646.09L537.91,646.41L539.39,646.73L540.87,647.04L542.35,647.35L543.84,647.66L545.32,647.97L546.81,648.27L548.29,648.57L549.78,648.87L551.26,649.17L552.75,649.46L554.24,649.75L555.72,650.04L557.21,650.32L558.70,650.60L560.19,650.88L561.68,651.16L563.17,651.43L564.66,651.70L566.15,651.97L567.64,652.24L569.14,652.50L570.63,652.76L572.12,653.02L573.62,653.28L575.11,653.53L576.60,653.78L578.10,654.03L579.59,654.27L581.09,654.52L582.58,654.76L584.08,655.00L585.58,655.24L587.08,655.47L588.57,655.70L590.07,655.93L591.57,656.16L593.07,656.39L594.57,656.61L596.07,656.83L597.57,657.05L599.07,657.27L600.57,657.49L602.07,657.70L603.57,657.91L605.07,658.12L606.57,658.33L608.07,658.54L609.58,658.74L611.08,658.94L612.58,659.14L614.08,659.34L615.59,659.54L617.09,659.73L618.60,659.93L620.10,660.12L621.61,660.31L623.11,660.50L624.62,660.68L626.12,660.87L627.63,661.05L629.13,661.23L630.64,661.41L632.15,661.59L633.65,661.77L635.16,661.94L636.67,662.12L638.17,662.29L639.68,662.46L641.19,662.63L642.70,662.80L644.20,662.97L645.71,663.14L647.22,663.30L648.73,663.46L650.24,663.63L651.75,663.79L653.26,663.95L654.76,664.11L656.27,664.26L657.78,664.42L659.29,664.58L660.80,664.73L662.31,664.88L663.82,665.04L665.33,665.19L666.84,665.34L668.35,665.49L669.86,665.64L671.37,665.78L672.88,665.93L674.39,666.08L675.90,666.22L677.41,666.37L678.92,666.51L680.44,666.65L681.95,666.79L683.46,666.94L684.97,667.08L686.48,667.22L687.99,667.36L689.50,667.49L691.01,667.63L692.52,667.77L694.03,667.90L695.55,668.04L697.06,668.17L698.57,668.31L700.08,668.44L701.59,668.57L703.10,668.71L704.61,668.84L706.12,668.97L707.64,669.10L709.15,669.23L710.66,669.36L712.17,669.48L713.68,669.61L715.19,669.74L716.71,669.86L718.22,669.99L719.73,670.11L721.24,670.24L722.75,670.36L724.27,670.48L725.78,670.60L727.29,670.72L728.80,670.84L730.31,670.96L731.83,671.08L733.34,671.20L734.85,671.32L736.36,671.43L737.88,671.55L739.39,671.67L740.90,671.78L742.41,671.90L743.93,672.01L745.44,672.12L746.95,672.24L748.46,672.35L749.98,672.46L751.49,672.57L753.00,672.68L754.52,672.79L756.03,672.90L757.54,673.00L759.05,673.11L760.57,673.22L762.08,673.32L763.59,673.43L765.11,673.54L766.62,673.64L768.13,673.74L769.65,673.85L771.16,673.95L772.67,674.05L774.19,674.15L775.70,674.25L777.21,674.35L778.73,674.45L780.24,674.55L781.75,674.65L783.27,674.75L784.78,674.85L786.29,674.94L787.81,675.04L789.32,675.13L790.84,675.23L792.35,675.32L793.86,675.42L795.38,675.51L796.89,675.60L798.41,675.70L799.92,675.79L801.43,675.88L802.95,675.97L804.46,676.06L805.98,676.15L807.49,676.24L809.00,676.33L810.52,676.41L812.03,676.50L813.55,676.59L815.06,676.67L816.57,676.76L818.09,676.84L819.60,676.93L821.12,677.01L822.63,677.10L824.15,677.18L825.66,677.26L827.18,677.34L828.69,677.43L830.20,677.51L831.72,677.59L833.23,677.67L834.75,677.75L836.26,677.83L837.78,677.91L839.29,677.98L840.81,678.06L842.32,678.14L843.84,678.21L845.35,678.29L846.87,678.37L848.38,678.44L849.90,678.52L851.41,678.59L852.93,678.66L854.44,678.74L855.96,678.81L857.47,678.88L858.99,678.96L860.50,679.03L862.02,679.10L863.53,679.17L865.05,679.24L866.56,679.31L868.08,679.38L869.59,679.45L871.11,679.52L872.62,679.58L874.14,679.65L875.65,679.72L877.17,679.78L878.68,679.85L880.20,679.92L881.72,679.98L883.23,680.05L884.75,680.11L886.26,680.18L887.78,680.24L889.29,680.30L890.81,680.37L892.32,680.43L893.84,680.49L895.35,680.55L896.87,680.61L898.39,680.67L899.90,680.74L901.42,680.80L902.93,680.86L904.45,680.92L905.96,680.97L907.48,681.03L909.00,681.09L910.51,681.15L912.03,681.21L913.54,681.26L915.06,681.32L916.58,681.38L918.09,681.43L919.61,681.49L921.12,681.54L922.64,681.60L924.15,681.65L925.67,681.71L927.19,681.76L928.70,681.82L930.22,681.87L931.73,681.92L933.25,681.97L934.77,682.03L936.28,682.08L937.80,682.13L939.32,682.18L940.83,682.23L942.35,682.28L943.86,682.33L945.38,682.38L946.90,682.43L948.41,682.48L949.93,682.53L951.44,682.58L952.96,682.63L954.48,682.68L955.99,682.73L957.51,682.77L959.03,682.82L960.54,682.87L962.06,682.91L963.57,682.96L965.09,683.01L966.61,683.05L968.12,683.10L969.64,683.14L971.16,683.19L972.67,683.23L974.19,683.28L975.71,683.32L977.22,683.37L978.74,683.41L980.25,683.45L981.77,683.50L983.29,683.54L984.80,683.58L986.32,683.62L987.84,683.67L989.35,683.71L990.87,683.75L992.39,683.79L993.90,683.83L995.42,683.87L996.94,683.91L998.45,683.95L999.97,683.99L1001.48,684.03L1003.00,684.07" stroke-dasharray="2 10.5 16.6 10.5" stroke-dashoffset="37.48"/>
</g>
<rect x="997.8" y="704.2" width="4.6" height="12" fill="#000"/>
<g fill="none" stroke="#000" stroke-width="1.8">
<rect x="114.7" y="52.4" width="888.1" height="690.8"/>
<path d="M410.45,743.2v-9.0M410.45,52.4v9.0M706.60,743.2v-9.0M706.60,52.4v9.0M114.7,715.21h9.0M1002.8,715.21h-9.0M114.7,644.72h9.0M1002.8,644.72h-9.0M114.7,574.23h9.0M1002.8,574.23h-9.0M114.7,503.74h9.0M1002.8,503.74h-9.0M114.7,433.25h9.0M1002.8,433.25h-9.0M114.7,362.76h9.0M1002.8,362.76h-9.0M114.7,292.27h9.0M1002.8,292.27h-9.0M114.7,221.78h9.0M1002.8,221.78h-9.0M114.7,151.29h9.0M1002.8,151.29h-9.0M114.7,80.80h9.0M1002.8,80.80h-9.0"/>
</g>
<text transform="matrix(1,0,0,1.035,106.60,725.51)" font-size="27.2" text-anchor="end">0.5</text>
<text transform="matrix(1,0,0,1.035,106.60,655.02)" font-size="27.2" text-anchor="end">0.55</text>
<text transform="matrix(1,0,0,1.035,106.60,584.53)" font-size="27.2" text-anchor="end">0.6</text>
<text transform="matrix(1,0,0,1.035,106.60,514.04)" font-size="27.2" text-anchor="end">0.65</text>
<text transform="matrix(1,0,0,1.035,106.60,443.55)" font-size="27.2" text-anchor="end">0.7</text>
<text transform="matrix(1,0,0,1.035,106.60,373.06)" font-size="27.2" text-anchor="end">0.75</text>
<text transform="matrix(1,0,0,1.035,106.60,302.57)" font-size="27.2" text-anchor="end">0.8</text>
<text transform="matrix(1,0,0,1.035,106.60,232.08)" font-size="27.2" text-anchor="end">0.85</text>
<text transform="matrix(1,0,0,1.035,106.60,161.59)" font-size="27.2" text-anchor="end">0.9</text>
<text transform="matrix(1,0,0,1.035,106.60,91.10)" font-size="27.2" text-anchor="end">0.95</text>
<text transform="matrix(1,0,0,1.035,114.60,776.90)" font-size="27.2" text-anchor="middle">0</text>
<text transform="matrix(1,0,0,1.035,410.05,776.90)" font-size="27.2" text-anchor="middle">5</text>
<path d="M700.50,757.40L700.50,776.60L698.40,776.60L698.40,762.80L693.80,762.80L693.80,761.10L695.90,760.70L697.40,759.00L698.10,757.40Z" fill="#000"/>
<text transform="matrix(1,0,0,1.035,706.90,776.90)" font-size="27.2" text-anchor="start">0</text>
<path d="M996.80,757.20L996.80,776.40L994.70,776.40L994.70,762.60L990.10,762.60L990.10,760.90L992.20,760.50L993.70,758.80L994.40,757.20Z" fill="#000"/>
<text transform="matrix(1,0,0,1.035,1002.90,776.90)" font-size="27.2" text-anchor="start">5</text>
<text transform="matrix(1,0,0,1.030,559.40,31.30)" font-size="27.2" text-anchor="middle" letter-spacing="0.1">Displacement</text>
<g fill="none" stroke="#000"><path d="M560.4,788.9L556.3,802.2C555.7,804.6 556.2,806.3 557.7,806.3C559.5,806.3 561.2,804.1 562.3,801.5" stroke-width="2.0" stroke-linecap="round"/><path d="M553.6,794.4H562.6" stroke-width="1.2"/></g>
<g transform="translate(35.2,421.6) rotate(-90)"><g fill="none" stroke="#000" stroke-linecap="round"><path d="M6.0,-2.0L8.2,-10.6" stroke-width="1.9"/><path d="M8.2,-10.6C7.6,-12.6 5.2,-13.4 3.7,-12.7C2.5,-12.1 1.7,-10.7 1.5,-8.9" stroke-width="0.9"/><path d="M8.2,-10.6C8.9,-12.4 11.0,-13.3 12.4,-12.4" stroke-width="1.0"/><path d="M6.0,-2.0C5.3,-0.3 3.2,0.3 2.0,-0.6" stroke-width="1.0"/><path d="M6.0,-2.0C6.6,-0.2 9.5,0.4 11.2,-0.5C12.4,-1.3 13.2,-3.0 13.3,-4.8" stroke-width="0.9"/></g><circle cx="12.5" cy="-11.2" r="1.35" fill="#000"/><circle cx="1.6" cy="-2.3" r="1.35" fill="#000"/><text x="15.3" y="0" font-size="30.3" style="font-family:'Liberation Serif',serif">(</text><g transform="translate(25.3,0)" fill="none" stroke="#000"><path d="M6.9,-17.6L2.7,-4.1C2.1,-1.7 2.6,0 4.1,0C5.9,0 7.6,-2.2 8.7,-4.8" stroke-width="2.0" stroke-linecap="round"/><path d="M0,-11.9H9" stroke-width="1.2"/></g><text x="34.4" y="0" font-size="30.3" style="font-family:'Liberation Serif',serif">)</text></g>
<rect x="794.6" y="65.8" width="194.7" height="158.8" fill="#fff" stroke="#000" stroke-width="1.8"/>
<path d="M810,89.5H890.5" stroke="#000" stroke-width="6.0" fill="none"/>
<g transform="translate(0,0.00)"><path d="M898.6,89.9C899.1,86.9 900.3,85.4 901.6,85.5C903.4,85.7 904.4,89.6 905.4,94.6" fill="none" stroke="#000" stroke-width="1.5"/><path d="M910.9,86.2L905.3,97" fill="none" stroke="#000" stroke-width="2"/><path d="M904.4,95.5L906.3,95.8C906.3,98.5 907,101.5 906.8,103.6C906.6,105.3 905.5,105.9 904.6,105.6C903.6,105.2 903.4,103.8 903.7,101.8C904,99.8 904.4,97.5 904.4,95.5Z" fill="#000"/></g>
<rect x="911" y="89.50" width="13.7" height="1.8" fill="#000"/><rect x="911" y="94.60" width="13.7" height="1.8" fill="#000"/>
<path d="M934.50,80.40L934.50,99.30L932.40,99.30L932.40,85.80L927.80,85.80L927.80,84.10L929.90,83.70L931.40,82.00L932.10,80.40Z" fill="#000"/>
<path d="M810,127.2H890.5" stroke="#000" stroke-width="6.0" stroke-dasharray="16.5 16.25" fill="none"/>
<g transform="translate(0,37.70)"><path d="M898.6,89.9C899.1,86.9 900.3,85.4 901.6,85.5C903.4,85.7 904.4,89.6 905.4,94.6" fill="none" stroke="#000" stroke-width="1.5"/><path d="M910.9,86.2L905.3,97" fill="none" stroke="#000" stroke-width="2"/><path d="M904.4,95.5L906.3,95.8C906.3,98.5 907,101.5 906.8,103.6C906.6,105.3 905.5,105.9 904.6,105.6C903.6,105.2 903.4,103.8 903.7,101.8C904,99.8 904.4,97.5 904.4,95.5Z" fill="#000"/></g>
<rect x="911" y="127.20" width="13.7" height="1.8" fill="#000"/><rect x="911" y="132.30" width="13.7" height="1.8" fill="#000"/>
<text transform="matrix(1,0,0,1.035,925.70,137.00)" font-size="27.2" text-anchor="start">0.95</text>
<path d="M810,164.9H890.5" stroke="#000" stroke-width="6.0" stroke-dasharray="2 10.3" fill="none"/>
<g transform="translate(0,75.40)"><path d="M898.6,89.9C899.1,86.9 900.3,85.4 901.6,85.5C903.4,85.7 904.4,89.6 905.4,94.6" fill="none" stroke="#000" stroke-width="1.5"/><path d="M910.9,86.2L905.3,97" fill="none" stroke="#000" stroke-width="2"/><path d="M904.4,95.5L906.3,95.8C906.3,98.5 907,101.5 906.8,103.6C906.6,105.3 905.5,105.9 904.6,105.6C903.6,105.2 903.4,103.8 903.7,101.8C904,99.8 904.4,97.5 904.4,95.5Z" fill="#000"/></g>
<rect x="911" y="164.90" width="13.7" height="1.8" fill="#000"/><rect x="911" y="170.00" width="13.7" height="1.8" fill="#000"/>
<text transform="matrix(1,0,0,1.035,925.70,174.70)" font-size="27.2" text-anchor="start">0.9</text>
<path d="M810,202.5H890.5" stroke="#000" stroke-width="6.0" stroke-dasharray="2 10.5 16.6 10.5" fill="none"/>
<g transform="translate(0,113.00)"><path d="M898.6,89.9C899.1,86.9 900.3,85.4 901.6,85.5C903.4,85.7 904.4,89.6 905.4,94.6" fill="none" stroke="#000" stroke-width="1.5"/><path d="M910.9,86.2L905.3,97" fill="none" stroke="#000" stroke-width="2"/><path d="M904.4,95.5L906.3,95.8C906.3,98.5 907,101.5 906.8,103.6C906.6,105.3 905.5,105.9 904.6,105.6C903.6,105.2 903.4,103.8 903.7,101.8C904,99.8 904.4,97.5 904.4,95.5Z" fill="#000"/></g>
<rect x="911" y="202.50" width="13.7" height="1.8" fill="#000"/><rect x="911" y="207.60" width="13.7" height="1.8" fill="#000"/>
<text transform="matrix(1,0,0,1.035,925.70,212.30)" font-size="27.2" text-anchor="start">0.85</text>
</svg></body></html>
